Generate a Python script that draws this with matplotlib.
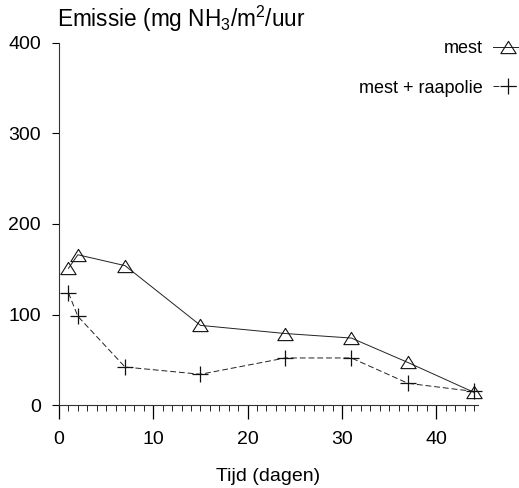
import matplotlib
matplotlib.use("Agg")
import matplotlib.pyplot as plt
from matplotlib.ticker import MultipleLocator
from matplotlib.path import Path

plt.rcParams['font.family'] = ['Liberation Sans', 'DejaVu Sans']
plt.rcParams['mathtext.fontset'] = 'custom'
plt.rcParams['mathtext.rm'] = 'Liberation Sans'

days_mest = [1, 2, 7, 15, 24, 31, 37, 44]
mest = [151, 166, 154, 88, 79, 74, 47, 14]
days_raap = [1, 2, 7, 15, 24, 31, 37, 44]
raapolie = [124, 98, 42, 34, 52, 52, 24, 15]

xticks = [0, 10, 20, 30, 40]
yticks = [0, 100, 200, 300, 400]

tri = Path([(0, 0.8), (-1, -0.8), (1, -0.8), (0, 0.8)],
           [Path.MOVETO, Path.LINETO, Path.LINETO, Path.CLOSEPOLY])

fig = plt.figure(figsize=(5.19, 4.88), dpi=100)
ax = fig.add_axes([0.1137, 0.170, 0.8068, 0.742])

ax.plot(days_mest, mest, color='#222222', lw=0.7, marker=tri, ms=11,
        mfc='none', mec='#111111', mew=0.8, label='mest', clip_on=False)
ax.plot(days_raap, raapolie, color='#222222', lw=0.7, ls=(0, (6, 3)),
        marker='+', ms=12, mec='#111111', mew=0.9, label='mest + raapolie', clip_on=False)

ax.set_xlim(0, 44.4)
ax.set_ylim(0, 400)
ax.set_xticks(xticks)
ax.set_yticks(yticks)
ax.xaxis.set_minor_locator(MultipleLocator(1))
for s in ['top', 'right']:
    ax.spines[s].set_visible(False)
for s in ['left', 'bottom']:
    ax.spines[s].set_linewidth(0.8)
    ax.spines[s].set_color('#333333')
ax.tick_params(axis='x', which='major', length=10, width=0.9, pad=9, labelsize=14)
ax.tick_params(axis='x', which='minor', length=4, width=0.6)
ax.tick_params(axis='y', which='major', length=5, width=0.8, pad=8, labelsize=14)

ax.set_xlabel('Tijd (dagen)', fontsize=14, labelpad=14)
fig.text(0.110, 0.961, 'Emissie (mg NH$_3$/m$^2$/uur', fontsize=16.3, ha='left', va='center')

leg = ax.legend(loc='upper right', bbox_to_anchor=(1.145, 1.053), frameon=False,
                markerfirst=False, fontsize=13, handlelength=1.6,
                labelspacing=1.25, handletextpad=0.6)

fig.savefig('out.png', dpi=100)
